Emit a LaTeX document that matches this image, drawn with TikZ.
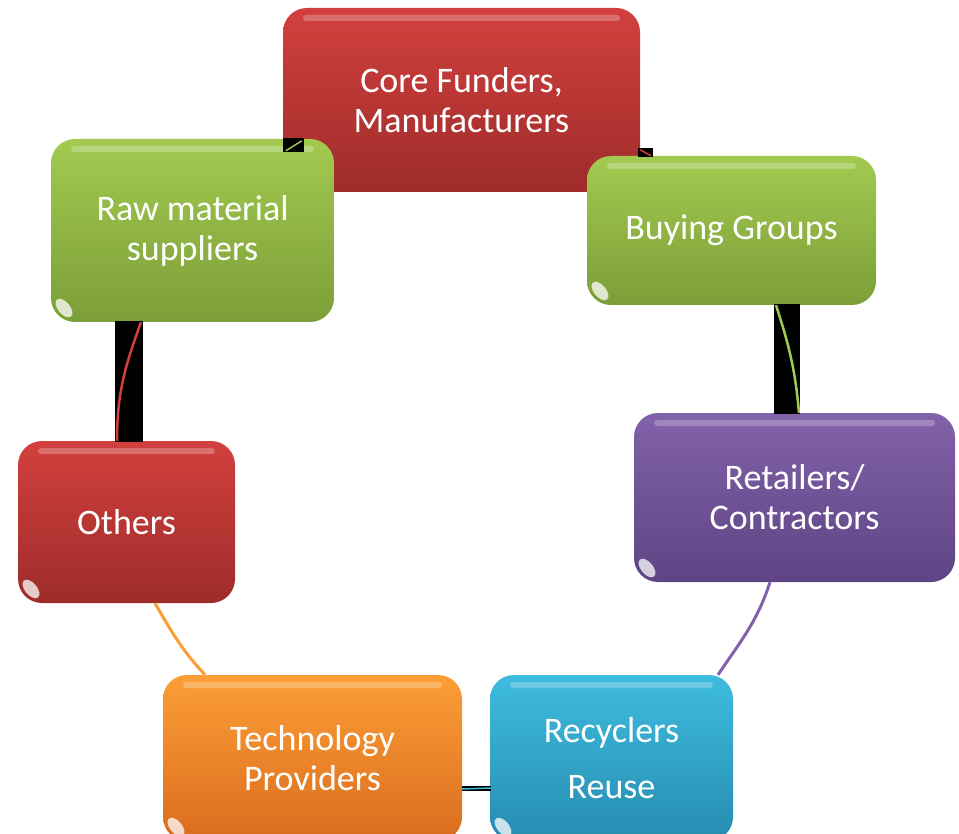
\documentclass[tikz,border=0pt]{standalone}
\usepackage{fontspec}
\setmainfont{Carlito}
\usetikzlibrary{calc}
\definecolor{redtop}{RGB}{210,64,62}
\definecolor{redbot}{RGB}{158,44,42}
\definecolor{greentop}{RGB}{162,202,80}
\definecolor{greenbot}{RGB}{124,158,56}
\definecolor{purptop}{RGB}{130,98,170}
\definecolor{purpbot}{RGB}{94,68,132}
\definecolor{cyantop}{RGB}{62,188,222}
\definecolor{cyanbot}{RGB}{38,140,176}
\definecolor{orangetop}{RGB}{252,158,54}
\definecolor{orangebot}{RGB}{218,108,30}
\tikzset{
  box/.style 2 args={rounded corners=24pt, top color=#1, bottom color=#2, draw=none,
    text=white, align=center, inner sep=0pt, font=\fontsize{36}{40}\selectfont,
    path picture={
      \fill[white, opacity=0.25, rounded corners=3pt]
        ($(path picture bounding box.north west)+(20,7)$) rectangle
        ($(path picture bounding box.north east)+(-20,13)$);
      \fill[white, opacity=0.75]
        ($(path picture bounding box.south west)+(13,-14)$)
        ellipse[x radius=11pt, y radius=6pt, rotate=-50];
    }},
  link/.style={line width=2.5pt},
  gap/.style={fill=black}
}
\begin{document}
\begin{tikzpicture}[x=1pt,y=-1pt]
\useasboundingbox (0,0) rectangle (959,834);

% boxes
\node[box={redtop}{redbot}, minimum width=357pt, minimum height=184pt] (core) at (461.5,100) {Core Funders,\\Manufacturers};
\node[box={greentop}{greenbot}, minimum width=283pt, minimum height=183pt] (raw) at (192.5,230.5) {Raw material\\suppliers};
\node[box={greentop}{greenbot}, minimum width=289pt, minimum height=149pt] (buy) at (731.5,230.5) {Buying Groups};
\node[box={purptop}{purpbot}, minimum width=321pt, minimum height=169pt] (ret) at (794.5,497.5) {Retailers/\\Contractors};
\node[box={redtop}{redbot}, minimum width=217pt, minimum height=162pt] (oth) at (126.5,522) {Others};
\node[box={orangetop}{orangebot}, minimum width=299pt, minimum height=166pt] (tech) at (312.5,758) {Technology\\Providers};
\node[box={cyantop}{cyanbot}, minimum width=243pt, minimum height=166pt] (rec) at (611.5,758) {Recyclers\\[16pt]Reuse};

% connectors
\coordinate (cr) at (core.west |- raw.north);
\fill[gap] ($(cr)+(0,-1)$) rectangle ($(cr)+(21,13)$);
\draw[link, greentop, line width=1.5pt] ($(cr)+(3,12)$) -- ($(cr)+(19,2)$);

\coordinate (cb) at (core.east |- buy.north);
\fill[gap] ($(cb)+(-2,-8)$) rectangle ($(cb)+(13,1)$);
\draw[link, redtop, line width=1.5pt] ($(cb)+(0,-6)$) -- ($(cb)+(11,0)$);

\fill[gap] ($(buy.south)+(42.5,-1)$) rectangle ($(ret.north)+(5.5,1)$);
\draw[link, greentop] ($(buy.south)+(44.5,0)$) to[out=-72, in=95] ($(ret.north)+(4.5,0)$);

\draw[link, purptop, line width=3pt] ($(ret.south)+(-24.5,0)$) to[out=-108, in=56] ($(rec.north)+(106.5,0)$);

\fill[gap] ($(tech.east)+(0,28)$) rectangle ($(rec.west)+(1,33)$);
\draw[link, cyantop, line width=1.5pt] ($(tech.east)+(0,31)$) -- ($(rec.west)+(1,30)$);

\draw[link, orangetop, line width=3pt] ($(oth.south)+(28.5,0)$) to[out=-60, in=133] ($(tech.north)+(-107.5,0)$);

\fill[gap] ($(oth.north)+(-11.5,1)$) rectangle ($(oth.north |- raw.south)+(16.5,-1)$);
\draw[link, redtop] ($(oth.north |- raw.south)+(14.5,0)$) to[out=-110, in=90] ($(oth.north)+(-9.5,0)$);
\end{tikzpicture}
\end{document}
